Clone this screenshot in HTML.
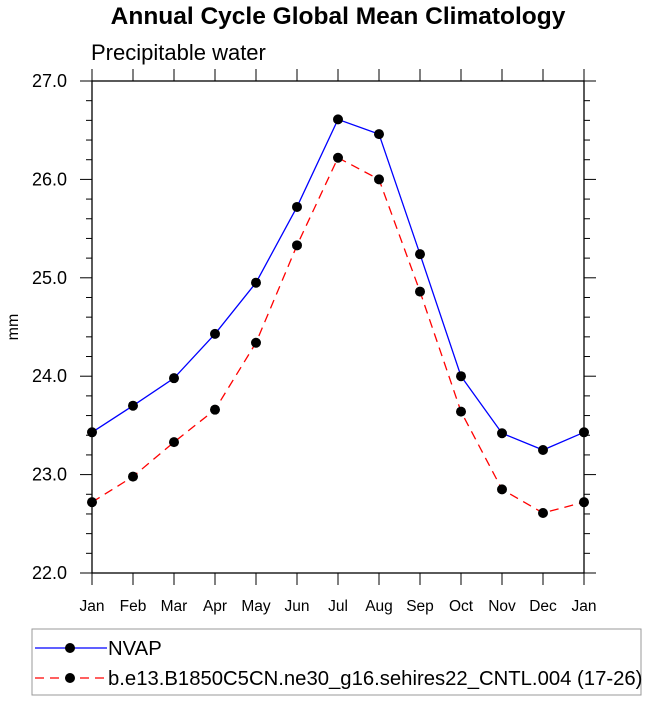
<!DOCTYPE html>
<html><head><meta charset="utf-8"><style>
body{margin:0;background:#fff;}
svg{display:block;font-family:"Liberation Sans",Arial,sans-serif;}
</style></head><body>
<svg id="chart" width="649" height="701">
<text x="338" y="24" text-anchor="middle" font-size="24.5" font-weight="bold">Annual Cycle Global Mean Climatology</text>
<text x="91" y="60" font-size="22">Precipitable water</text>
<text transform="translate(18,327) rotate(-90)" text-anchor="middle" font-size="16">mm</text>
<g id="axes"></g>
<g id="series"></g>
<rect x="32" y="629" width="609" height="66" fill="none" stroke="#999" stroke-width="1"/>
<g>
<line x1="35" y1="648" x2="107" y2="648" stroke="#00f" stroke-width="1.3"/>
<circle cx="70" cy="648" r="5" fill="#000"/>
<text x="108" y="655" font-size="20.3">NVAP</text>
</g>
<g>
<line x1="35" y1="678" x2="107" y2="678" stroke="#f00" stroke-width="1.3" stroke-dasharray="9,6"/>
<circle cx="70" cy="678" r="5" fill="#000"/>
<text x="108" y="685" font-size="20.3">b.e13.B1850C5CN.ne30_g16.sehires22_CNTL.004 (17-26)</text>
</g>
</svg>
<script>
const months = ["Jan","Feb","Mar","Apr","May","Jun","Jul","Aug","Sep","Oct","Nov","Dec","Jan"];
const nvap = [23.43,23.70,23.98,24.43,24.95,25.72,26.61,26.46,25.24,24.00,23.42,23.25,23.43];
const model = [22.72,22.98,23.33,23.66,24.34,25.33,26.22,26.00,24.86,23.64,22.85,22.61,22.72];
const yTicks = ["22.0","23.0","24.0","25.0","26.0","27.0"];

const NS="http://www.w3.org/2000/svg";
const X0=92,X1=584,Y0=573,Y1=81,VMIN=22,VMAX=27;
const xs=i=>X0+i*(X1-X0)/(months.length-1);
const ys=v=>Y0-(v-VMIN)*(Y0-Y1)/(VMAX-VMIN);
function mk(tag,attrs,parent){const e=document.createElementNS(NS,tag);for(const k in attrs)e.setAttribute(k,attrs[k]);parent.appendChild(e);return e;}
const ax=document.getElementById('axes');
const fr=mk('rect',{x:X0,y:Y1,width:X1-X0,height:Y0-Y1,fill:'none',stroke:'#000','stroke-width':1.3},ax);


for(let v=VMIN;v<=VMAX+1e-9;v+=0.2){
  const major=Math.abs(v-Math.round(v))<1e-6, y=ys(v), L=major?12:6;
  mk('line',{x1:X0-L,y1:y,x2:X0,y2:y,stroke:'#000','stroke-width':1},ax);
  mk('line',{x1:X1,y1:y,x2:X1+L,y2:y,stroke:'#000','stroke-width':1},ax);
}
yTicks.forEach(t=>{
  const tx=mk('text',{x:67,y:ys(parseFloat(t))+6,'text-anchor':'end','font-size':18},ax);
  tx.textContent=t;
  
  
});
months.forEach((m,i)=>{
  const x=xs(i);
  mk('line',{x1:x,y1:Y0,x2:x,y2:Y0+12,stroke:'#000','stroke-width':1},ax);
  mk('line',{x1:x,y1:Y1-12,x2:x,y2:Y1,stroke:'#000','stroke-width':1},ax);
  const tx=mk('text',{x:x,y:611,'text-anchor':'middle','font-size':15.5},ax);
  tx.textContent=m;
  
  
});
const sg=document.getElementById('series');
function draw(vals,color,dash,name){
  const g=mk('g',{},sg);
  
  
  const pts=vals.map((v,i)=>xs(i)+','+ys(v)).join(' ');
  const a={points:pts,fill:'none',stroke:color,'stroke-width':1.3};
  if(dash)a['stroke-dasharray']=dash;
  mk('polyline',a,g);
  vals.forEach((v,i)=>{
    const c=mk('circle',{cx:xs(i),cy:ys(v),r:5,fill:'#000'},g);
    
    
  });
}
draw(nvap,'#00f',null,'series-nvap');
draw(model,'#f00','9,6','series-model');
</script>
</body></html>
